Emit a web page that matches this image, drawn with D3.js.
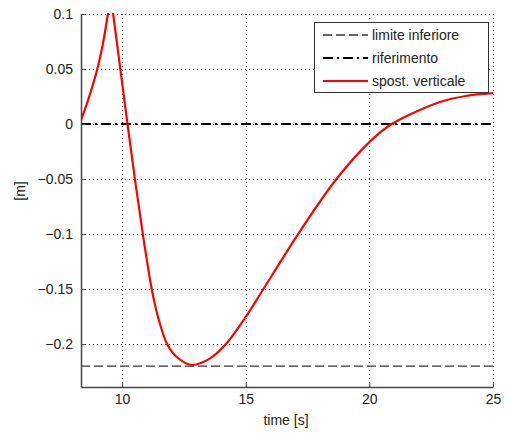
<!DOCTYPE html>
<html>
<head>
<meta charset="utf-8">
<script src="https://cdn.jsdelivr.net/npm/d3@7"></script>
<style>
  body { margin: 0; background: #fff; }
  text { font-family: Arial, "Liberation Sans", sans-serif; }
</style>
</head>
<body>
<svg id="chart" width="507" height="434"></svg>
<script>
// values
let xTicks = [10, 15, 20, 25];
let yTicks = [0.1, 0.05, 0, -0.05, -0.1, -0.15, -0.2];
let limiteInferiore = -0.22;
let riferimento = 0;
let timeS = [8.34, 8.63, 9.0, 9.23, 9.43, 9.55, 9.64, 9.93, 10.22, 10.52, 10.84, 11.2, 11.45, 11.82, 12.2, 12.82, 13.56, 14.2, 15.04, 15.66, 17.12, 18.67, 20.02, 20.9, 22.85, 23.9, 25];
let spostVerticale = [0.0036, 0.022, 0.05, 0.0734, 0.1, 0.114, 0.1, 0.05, 0, -0.05, -0.1, -0.15, -0.175, -0.2, -0.2115, -0.219, -0.213, -0.2, -0.174, -0.152, -0.1, -0.05, -0.016, 0, 0.02, 0.0255, 0.028];
let legendLabels = ['limite inferiore', 'riferimento', 'spost. verticale'];

let svg = d3.select('#chart');
let mLeft = 81, mRight = 493, mTop = 14, mBottom = 387;

let x = d3.scaleLinear().domain([8.34, 25]).range([mLeft, mRight]);
let y = d3.scaleLinear().domain([-0.239, 0.1]).range([mBottom, mTop]);

// grid
let grid = svg.append('g').attr('stroke', '#222').attr('stroke-width', 1).attr('stroke-dasharray', '1,3');
for (let t of xTicks) {
    grid.append('line').attr('x1', Math.round(x(t)) + 0.5).attr('x2', Math.round(x(t)) + 0.5)
        .attr('y1', mTop).attr('y2', mBottom);
}
for (let t of yTicks) {
    grid.append('line').attr('y1', Math.round(y(t)) + 0.5).attr('y2', Math.round(y(t)) + 0.5)
        .attr('x1', mLeft).attr('x2', mRight);
}

svg.append('defs').append('clipPath').attr('id', 'clip')
    .append('rect').attr('x', mLeft).attr('y', mTop - 1).attr('width', mRight - mLeft + 2).attr('height', mBottom - mTop + 1);

let plot = svg.append('g').attr('clip-path', 'url(#clip)');

plot.append('line')
    .attr('x1', x(8.34)).attr('x2', x(25))
    .attr('y1', y(limiteInferiore)).attr('y2', y(limiteInferiore))
    .attr('stroke', '#333').attr('stroke-width', 1.3).attr('stroke-dasharray', '9,4');

plot.append('line')
    .attr('x1', x(8.34)).attr('x2', x(25))
    .attr('y1', y(riferimento)).attr('y2', y(riferimento))
    .attr('stroke', '#000').attr('stroke-width', 2).attr('stroke-dasharray', '10,4,2,4');

let line = d3.line().x(d => x(d[0])).y(d => y(d[1])).curve(d3.curveCatmullRom);
plot.append('path')
    .datum(d3.zip(timeS, spostVerticale))
    .attr('fill', 'none').attr('stroke', '#f00').attr('stroke-width', 2.2)
    .attr('stroke-linejoin', 'round')
    .attr('d', line);

// axes (ticks inside, like MATLAB)
let xAxis = d3.axisBottom(x).tickValues(xTicks).tickSizeInner(-4).tickSizeOuter(0).tickPadding(7);
let yAxis = d3.axisLeft(y).tickValues(yTicks).tickSizeInner(-4).tickSizeOuter(0).tickPadding(8).tickFormat(d => d3.format('~g')(d));

let gx = svg.append('g').attr('transform', `translate(0,${mBottom})`).call(xAxis);
let gy = svg.append('g').attr('transform', `translate(${mLeft},0)`).call(yAxis);
for (let g of [gx, gy]) {
    g.select('.domain').attr('stroke', '#444').attr('stroke-width', 1.5);
    g.selectAll('.tick line').attr('stroke', '#444');
    g.selectAll('.tick text').attr('fill', '#222').style('font-size', '14px');
}

svg.append('text').attr('x', 286).attr('y', 425).attr('text-anchor', 'middle')
    .style('font-size', '14px').attr('fill', '#222').text('time [s]');
svg.append('text').attr('transform', 'translate(25,191) rotate(-90)').attr('text-anchor', 'middle')
    .style('font-size', '14px').attr('fill', '#222').text('[m]');

// legend
let lg = svg.append('g');
lg.append('rect').attr('x', 314.5).attr('y', 22.5).attr('width', 174).attr('height', 70)
    .attr('fill', '#fff').attr('stroke', '#333').attr('stroke-width', 1);
let styles = [
    {stroke: '#333', width: 1.3, dash: '9,4'},
    {stroke: '#000', width: 2, dash: '10,4,2,4'},
    {stroke: '#f00', width: 2.2, dash: null}
];
let rowY = [35, 58, 81];
legendLabels.forEach((lab, i) => {
    lg.append('line').attr('x1', 323).attr('x2', 368).attr('y1', rowY[i]).attr('y2', rowY[i])
        .attr('stroke', styles[i].stroke).attr('stroke-width', styles[i].width)
        .attr('stroke-dasharray', styles[i].dash);
    lg.append('text').attr('x', 372).attr('y', rowY[i] + 5).style('font-size', '14px')
        .attr('fill', '#222').text(lab);
});
</script>
</body>
</html>
